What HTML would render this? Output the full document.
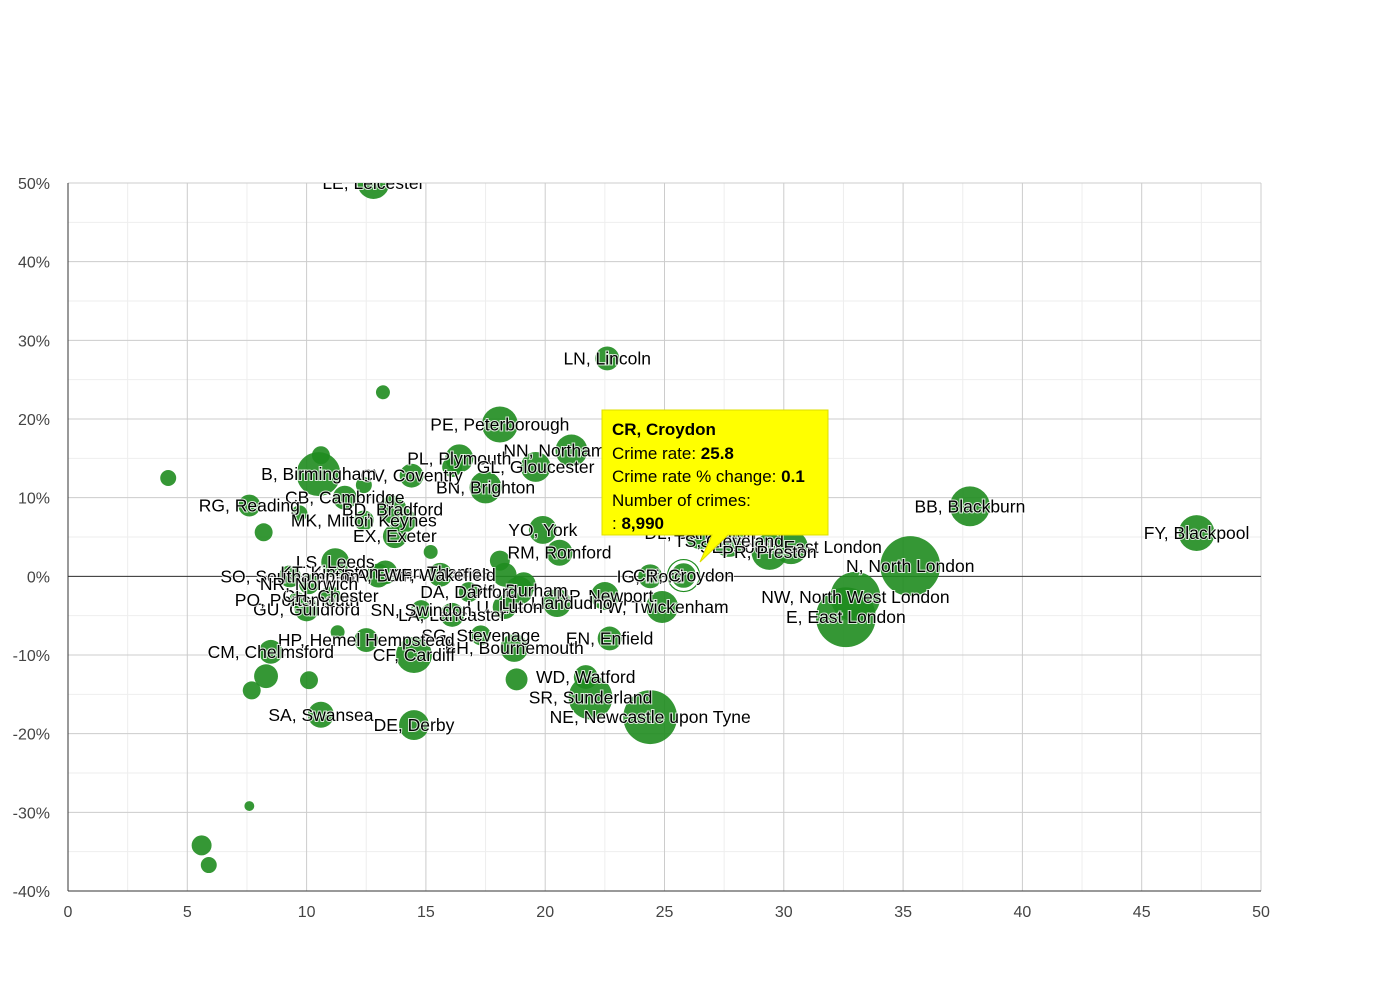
<!DOCTYPE html>
<html><head><meta charset="utf-8"><style>
body{margin:0;background:#fff;font-family:"Liberation Sans",sans-serif}
svg text{font-family:"Liberation Sans",sans-serif}
</style></head><body>
<svg id="chart" width="1390" height="980" xmlns="http://www.w3.org/2000/svg"><defs><clipPath id="pc"><rect x="68" y="183" width="1193" height="708"/></clipPath></defs></svg>
<script>
const labels=["LE, Leicester","LN, Lincoln","","PE, Peterborough","NN, Northampton","PL, Plymouth","GL, Gloucester","BN, Brighton","CV, Coventry","","B, Birmingham","","CB, Cambridge","","RG, Reading","","MK, Milton Keynes","BD, Bradford","","EX, Exeter","","","YO, York","RM, Romford","","LS, Leeds","KT, Kingston upon Thames","BA, Bath","SO, Southampton","WF, Wakefield","IG, Ilford","SE, South East London","DL, Darlington","TS, Cleveland","PR, Preston","N, North London","NW, North West London","E, East London","BB, Blackburn","FY, Blackpool","TW, Twickenham","NP, Newport","LL, Llandudno","DH, Durham","LU, Luton","DA, Dartford","LA, Lancaster","SN, Swindon","EN, Enfield","BH, Bournemouth","SG, Stevenage","HP, Hemel Hempstead","CF, Cardiff","GU, Guildford","PO, Portsmouth","CH, Chester","CM, Chelmsford","","","","","WD, Watford","","SR, Sunderland","NE, Newcastle upon Tyne","SA, Swansea","DE, Derby","","","","NR, Norwich","","","","CR, Croydon"];
const rates=[12.8,22.6,13.2,18.1,21.1,16.4,19.6,17.5,14.4,16.1,10.5,10.6,11.6,12.4,7.6,9.7,12.4,13.6,14.1,13.7,8.2,4.2,19.9,20.6,15.2,11.2,13.3,13.0,9.3,15.6,24.4,30.3,26.5,27.7,29.4,35.3,33.0,32.6,37.8,47.3,24.9,22.5,20.5,18.9,18.3,16.8,16.1,14.8,22.7,18.7,17.3,12.5,14.5,10.0,9.6,11.0,8.5,8.3,10.1,7.7,11.3,21.7,18.8,21.9,24.4,10.6,14.5,7.6,5.6,5.9,10.1,18.1,19.1,18.3,25.8];
const changes=[50,27.7,23.4,19.3,16,15,13.9,11.3,12.8,13.9,13,15.4,10,11.6,9,8,7.1,8.5,7.1,5.1,5.6,12.5,5.9,3,3.1,1.8,0.5,0.1,0,0.2,0,3.7,5.5,4.5,3.1,1.3,-2.6,-5.2,8.9,5.5,-3.9,-2.5,-3.4,-1.8,-3.9,-2,-4.9,-4.3,-7.9,-9.1,-7.5,-8.1,-10,-4.2,-3,-2.5,-9.6,-12.7,-13.2,-14.5,-7.1,-12.8,-13.1,-15.4,-17.9,-17.6,-18.9,-29.2,-34.2,-36.7,-1,2,-1,0.2,0.1];
const crimes=[13600,7600,2600,17200,13600,10400,11900,13600,7600,5300,25700,4300,7600,3400,6400,3400,5300,10400,7600,7600,4300,3400,10400,9000,2600,10400,7600,7600,6400,7600,7600,15300,13600,13600,17200,47700,33100,47700,21200,17200,13600,10400,10400,10400,7600,5300,7600,5300,7600,10400,5300,7600,17200,7600,3400,5300,7600,7600,4300,4300,2600,7600,6400,25700,38600,9000,11900,1300,5300,3400,5300,5300,7600,7600,9000];
const xTicks=[0,5,10,15,20,25,30,35,40,45,50];
const yTicks=[50,40,30,20,10,0,-10,-20,-30,-40];
const svg=document.getElementById('chart');const NS="http://www.w3.org/2000/svg";
const X0=68,X1=1261,Y0=183,Y1=891;
const sx=v=>X0+(v-0)/50*(X1-X0);
const sy=v=>Y0+(50-v)/90*(Y1-Y0);
const sr=c=>Math.sqrt(c)*0.137;
function mk(t,a,p){const e=document.createElementNS(NS,t);for(const k in a)e.setAttribute(k,a[k]);(p||svg).appendChild(e);return e;}
const grid=mk('g',{});


for(let v=2.5;v<50;v+=5)mk('line',{x1:sx(v),x2:sx(v),y1:Y0,y2:Y1,stroke:'#eeeeee'},grid);
for(let v=45;v>-40;v-=10)mk('line',{x1:X0,x2:X1,y1:sy(v),y2:sy(v),stroke:'#eeeeee'},grid);
xTicks.forEach(v=>{mk('line',{x1:sx(v),x2:sx(v),y1:Y0,y2:Y1,stroke:'#cccccc'},grid);
 const t=mk('text',{x:sx(v),y:917,'text-anchor':'middle','font-size':16,fill:'#444'});t.textContent=v;
 
 });
yTicks.forEach(v=>{mk('line',{x1:X0,x2:X1,y1:sy(v),y2:sy(v),stroke:'#cccccc'},grid);
 const t=mk('text',{x:50,y:sy(v)+6,'text-anchor':'end','font-size':16,fill:'#444'});t.textContent=v+'%';
 
 });
mk('line',{x1:X0,x2:X0,y1:Y0,y2:Y1,stroke:'#333'},grid);
mk('line',{x1:X0,x2:X1,y1:Y1,y2:Y1,stroke:'#333'},grid);
const zl=mk('line',{x1:X0,x2:X1,y1:sy(0),y2:sy(0),stroke:'#333'});


const bg=mk('g',{'clip-path':'url(#pc)'});
rates.forEach((r,i)=>{const last=i===rates.length-1;
 const c=mk('circle',{cx:sx(r),cy:sy(changes[i]),r:sr(crimes[i]),fill:'#1f8c1f','fill-opacity':0.9,stroke:last?'#fff':'none','stroke-width':last?1.5:0},bg);
 
 
 if(last)mk('circle',{cx:sx(r),cy:sy(changes[i]),r:sr(crimes[i])+3,fill:'none',stroke:'#1f8c1f','stroke-width':1.2},bg);});
const lg=mk('g',{'clip-path':'url(#pc)'});
rates.forEach((r,i)=>{if(!labels[i])return;
 const t=mk('text',{x:sx(r),y:sy(changes[i])+6,'text-anchor':'middle','font-size':17.5,fill:'#000',stroke:'#fff','stroke-width':2,'paint-order':'stroke','stroke-opacity':0.8},lg);
 t.textContent=labels[i];
 
 });
const tip=mk('g',{});


mk('path',{d:'M602,410 H828 V535 H728 L700,562 L712,535 H602 Z',fill:'#ffff00',stroke:'#dddd00'},tip);
const lines=[["CR, Croydon","",430,true],["Crime rate: ","25.8",454],["Crime rate % change: ","0.1",477],["Number of crimes:","",501],[": ","8,990",524]];
lines.forEach(l=>{const t=mk('text',{x:612,y:l[2]+5,'font-size':17,fill:'#000','font-weight':l[3]?'bold':'normal'},tip);
 t.textContent=l[0];if(l[1]){const s=mk('tspan',{'font-weight':'bold'},t);s.textContent=l[1];}});
</script>
</body></html>
